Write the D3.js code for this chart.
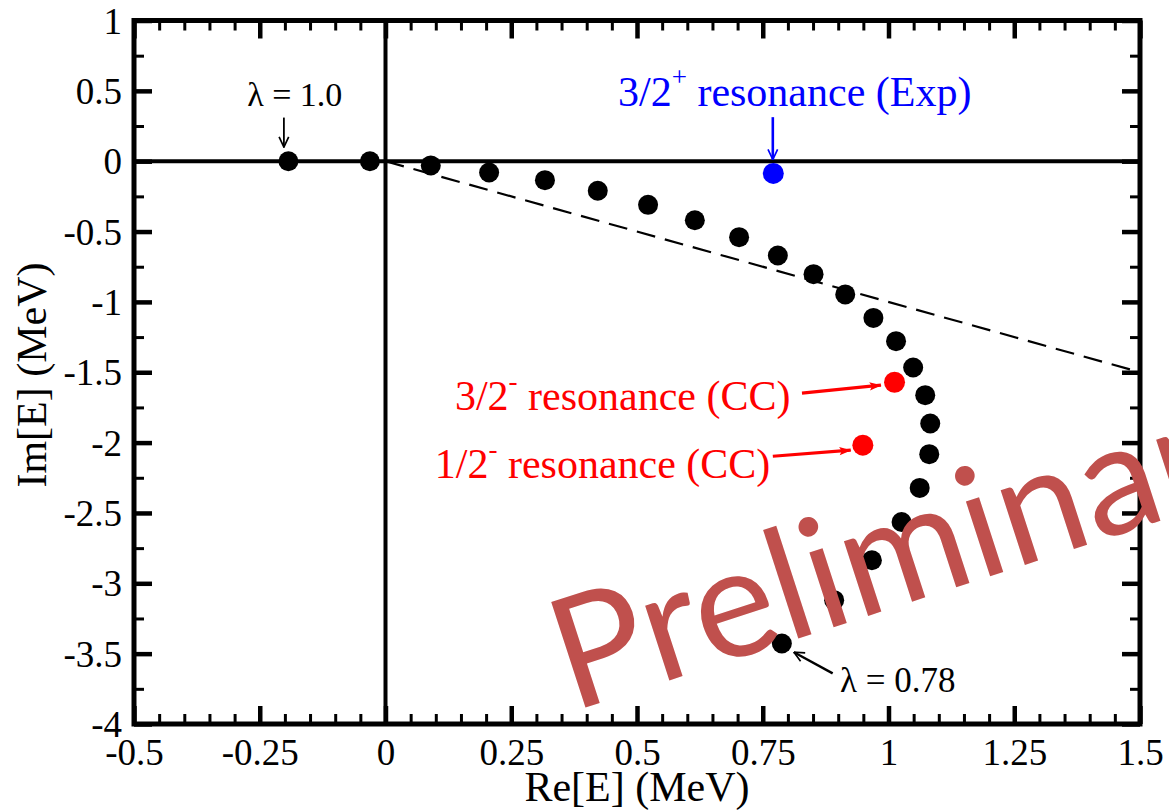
<!DOCTYPE html>
<html>
<head>
<meta charset="utf-8">
<script src="https://cdn.jsdelivr.net/npm/d3@7"></script>
<style>
  html, body { margin: 0; padding: 0; background: #fff; }
  svg { display: block; overflow: hidden; }
  .serif { font-family: "Liberation Serif", "Times New Roman", serif; }
</style>
</head>
<body>
<svg id="chart" width="1169" height="811"></svg>
<script>
// Pole trajectory of the resonance as lambda goes from 1.0 down to 0.78
const trajRe = [-0.193, -0.031, 0.090, 0.206, 0.317, 0.422, 0.522, 0.615, 0.703, 0.780,
                0.851, 0.914, 0.970, 1.015, 1.049, 1.073, 1.083, 1.081, 1.062, 1.026,
                0.967, 0.892, 0.788];
const trajIm = [0.0, 0.0, -0.03, -0.08, -0.135, -0.21, -0.31, -0.42, -0.54, -0.67,
                -0.803, -0.947, -1.114, -1.279, -1.466, -1.663, -1.864, -2.082, -2.322, -2.564,
                -2.836, -3.120, -3.428];

// Reference resonances
const expRe = [0.771], expIm = [-0.087];                 // 3/2+ (Exp)
const ccRe = [1.012, 0.949], ccIm = [-1.571, -2.018];    // 3/2-, 1/2- (CC)

// Rotated-continuum line Im = -Re
const cutRe = [0, 1.5], cutIm = [0, -1.5];

// Axis ticks
const xMajor = [-0.5, -0.25, 0, 0.25, 0.5, 0.75, 1, 1.25, 1.5];
const xLabels = ["-0.5", "-0.25", "0", "0.25", "0.5", "0.75", "1", "1.25", "1.5"];
const yMajor = [1, 0.5, 0, -0.5, -1, -1.5, -2, -2.5, -3, -3.5, -4];
const yLabels = ["1", "0.5", "0", "-0.5", "-1", "-1.5", "-2", "-2.5", "-3", "-3.5", "-4"];
const xMinor = d3.range(-0.5, 1.5001, 0.05).map(v => +v.toFixed(2)).filter(v => !xMajor.includes(v));
const yMinor = d3.range(-4, 1.0001, 0.25).map(v => +v.toFixed(2)).filter(v => !yMajor.includes(v));

const svg = d3.select("#chart");
const W = 1169, H = 811;
const m = { left: 134, right: 29, top: 20.5, bottom: 87 };
const iw = W - m.left - m.right, ih = H - m.top - m.bottom;

const x = d3.scaleLinear().domain([-0.5, 1.5]).range([m.left, m.left + iw]);
const y = d3.scaleLinear().domain([1, -4]).range([m.top, m.top + ih]);

const defs = svg.append("defs");
function head(id, color, filled) {
  const mk = defs.append("marker").attr("id", id)
    .attr("viewBox", "0 0 10 10").attr("refX", 9.5).attr("refY", 5)
    .attr("markerUnits", "userSpaceOnUse")
    .attr("markerWidth", filled ? 16 : 12).attr("markerHeight", 12)
    .attr("orient", "auto");
  if (filled) {
    mk.append("path").attr("d", "M0,1.5 L10,5 L0,8.5 L2,5 Z").attr("fill", color);
  } else {
    mk.append("path").attr("d", "M1,1 L9.5,5 L1,9").attr("fill", "none")
      .attr("stroke", color).attr("stroke-width", 1.4);
  }
}
head("hBlack", "#000", false);
head("hBlue", "#0000ff", false);
head("hRed", "#ff0000", true);

const plot = svg.append("g");

// Zero lines
plot.append("line").attr("x1", x(-0.5)).attr("x2", x(1.5)).attr("y1", y(0)).attr("y2", y(0))
  .attr("stroke", "#000").attr("stroke-width", 4);
plot.append("line").attr("x1", x(0)).attr("x2", x(0)).attr("y1", y(1)).attr("y2", y(-4))
  .attr("stroke", "#000").attr("stroke-width", 4);

// Dashed line
plot.append("path")
  .datum(d3.zip(cutRe, cutIm))
  .attr("d", d3.line().x(d => x(d[0])).y(d => y(d[1])))
  .attr("fill", "none").attr("stroke", "#000").attr("stroke-width", 2.2)
  .attr("stroke-dasharray", "19,10");

// Axes: inward ticks on all four sides
function styleAxis(g, w) {
  g.select(".domain").remove();
  g.selectAll(".tick line").attr("stroke", "#000").attr("stroke-width", w);
}
const fmtX = d => xLabels[xMajor.indexOf(d)];
const fmtY = d => yLabels[yMajor.indexOf(d)];

const gB = svg.append("g").attr("transform", `translate(0,${y(-4)})`)
  .call(d3.axisBottom(x).tickValues(xMajor).tickSize(-18).tickPadding(15).tickFormat(fmtX));
styleAxis(gB, 4.5);
gB.selectAll("text").attr("class", "serif").attr("font-size", 37).attr("fill", "#000");
svg.append("g").attr("transform", `translate(0,${y(-4)})`)
  .call(d3.axisBottom(x).tickValues(xMinor).tickSize(-10).tickFormat(""))
  .call(g => styleAxis(g, 3));
svg.append("g").attr("transform", `translate(0,${y(1)})`)
  .call(d3.axisTop(x).tickValues(xMajor).tickSize(-18).tickFormat(""))
  .call(g => styleAxis(g, 4.5));
svg.append("g").attr("transform", `translate(0,${y(1)})`)
  .call(d3.axisTop(x).tickValues(xMinor).tickSize(-10).tickFormat(""))
  .call(g => styleAxis(g, 3));

const gL = svg.append("g").attr("transform", `translate(${x(-0.5)},0)`)
  .call(d3.axisLeft(y).tickValues(yMajor).tickSize(-18).tickPadding(12).tickFormat(fmtY));
styleAxis(gL, 4.5);
gL.selectAll("text").attr("class", "serif").attr("font-size", 37).attr("fill", "#000")
  .attr("dy", "0.34em");
svg.append("g").attr("transform", `translate(${x(-0.5)},0)`)
  .call(d3.axisLeft(y).tickValues(yMinor).tickSize(-10).tickFormat(""))
  .call(g => styleAxis(g, 3));
svg.append("g").attr("transform", `translate(${x(1.5)},0)`)
  .call(d3.axisRight(y).tickValues(yMajor).tickSize(-18).tickFormat(""))
  .call(g => styleAxis(g, 4.5));
svg.append("g").attr("transform", `translate(${x(1.5)},0)`)
  .call(d3.axisRight(y).tickValues(yMinor).tickSize(-10).tickFormat(""))
  .call(g => styleAxis(g, 3));

// Frame
svg.append("rect").attr("x", m.left).attr("y", m.top).attr("width", iw).attr("height", ih)
  .attr("fill", "none").attr("stroke", "#000").attr("stroke-width", 5);

// Axis titles
svg.append("text").attr("class", "serif").attr("x", x(0.5)).attr("y", 801).attr("text-anchor", "middle")
  .attr("font-size", 42).text("Re[E] (MeV)");
svg.append("text").attr("class", "serif").attr("transform", `translate(46,${y(-1.52)}) rotate(-90)`)
  .attr("text-anchor", "middle").attr("font-size", 42).text("Im[E] (MeV)");

// Trajectory points
plot.append("g").selectAll("circle").data(d3.zip(trajRe, trajIm)).join("circle")
  .attr("cx", d => x(d[0])).attr("cy", d => y(d[1])).attr("r", 10).attr("fill", "#000");
plot.append("g").selectAll("circle").data(d3.zip(expRe, expIm)).join("circle")
  .attr("cx", d => x(d[0])).attr("cy", d => y(d[1])).attr("r", 10.5).attr("fill", "#0000ff");
plot.append("g").selectAll("circle").data(d3.zip(ccRe, ccIm)).join("circle")
  .attr("cx", d => x(d[0])).attr("cy", d => y(d[1])).attr("r", 10.5).attr("fill", "#ff0000");

// Annotations
function arrow(x0, y0, x1, y1, color, mk, w) {
  svg.append("line").attr("x1", x(x0)).attr("y1", y(y0)).attr("x2", x(x1)).attr("y2", y(y1))
    .attr("stroke", color).attr("stroke-width", w).attr("marker-end", `url(#${mk})`);
}
svg.append("text").attr("class", "serif").attr("x", x(-0.275)).attr("y", y(0.391)).attr("font-size", 34)
  .attr("xml:space", "preserve").text("λ = 1.0");
arrow(-0.202, 0.31, -0.202, 0.10, "#000", "hBlack", 1.8);

svg.append("text").attr("class", "serif").attr("x", x(0.9036)).attr("y", y(-3.774)).attr("font-size", 35)
  .text("λ = 0.78");
arrow(0.889, -3.64, 0.812, -3.49, "#000", "hBlack", 2.4);

function labelWithSup(px, py, base, sup, rest, color) {
  const t = svg.append("text").attr("class", "serif").attr("x", x(px)).attr("y", y(py))
    .attr("font-size", 42).attr("fill", color);
  t.append("tspan").text(base);
  t.append("tspan").attr("font-size", 27).attr("dy", "-0.75em").text(sup);
  t.append("tspan").attr("dy", "0.48em").attr("font-size", 42).text(rest);
}
labelWithSup(0.4622, 0.391, "3/2", "+", " resonance (Exp)", "#0000ff");
arrow(0.770, 0.313, 0.770, 0.012, "#0000ff", "hBlue", 2.6);

labelWithSup(0.138, -1.770, "3/2", "-", " resonance (CC)", "#ff0000");
arrow(0.828, -1.649, 0.985, -1.592, "#ff0000", "hRed", 3.2);
labelWithSup(0.098, -2.253, "1/2", "-", " resonance (CC)", "#ff0000");
arrow(0.770, -2.097, 0.925, -2.054, "#ff0000", "hRed", 3.2);

// Watermark
svg.append("text").attr("transform", "translate(572,712) rotate(-18)")
  .style("font-family", "Lato, 'Open Sans', sans-serif").attr("font-size", 155)
  .attr("fill", "#c0504d").text("Preliminary");
</script>
</body>
</html>
